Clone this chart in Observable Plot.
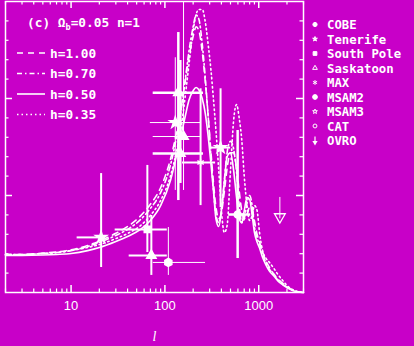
<!DOCTYPE html>
<html><head><meta charset="utf-8">
<script src="https://cdn.jsdelivr.net/npm/d3@7"></script>
<script src="https://cdn.jsdelivr.net/npm/@observablehq/plot@0.6"></script>
<style>
html,body{margin:0;padding:0;background:#c800c8;}
#chart{width:414px;height:346px;overflow:hidden;}
</style></head><body><div id="chart"></div>
<script>
// multipole grid
const ells = [2,3,5,7,10,15,20,30,40,55,70,90,115,135,150,165,180,200,215,230,250,270,290,310,330,350,375,400,430,460,500,540,580,620,660,700,750,800,850,900,960,1020,1100,1200,1300,1450,1600,1800,2000,2300,2600,3000];
// model curves (Omega_b = 0.05, n = 1)
const h100 = [19.6,19.6,20.3,20.9,22,24.2,26.5,30.5,34,39.5,45.5,54,69,84,96,109,121,132,137,135,124,108,90,72,56,44,38,41,52,64,72,72,64,52,42,38,40,44,43,37,30,26,21,16,13,9.5,7,4.8,3,1.3,0.4,0];
const h070 = [19.6,19.6,20.1,20.6,21.6,23.7,25.8,29.4,32.5,37.6,43.3,51.5,66,82,95,110,124,137,143,141,128,110,90,70,52,40,36,42,58,72,78,74,62,45,36,38,46,50,45,34,28,25,20,15,12,9,6.5,4.5,2.8,1.2,0.4,0];
const h050 = [19.1,19.1,19.3,19.6,20.1,21.6,23.2,26.3,28.9,32.5,37.1,44.8,58,72,82,91,99,104,105.7,104.5,100,92,80,66,52,38,34,42,57,70,72,63,49,38,36,42,49,48,40,31,26,23,18,14,11,8.5,6,4,2.5,1,0.3,0];
const h035 = [19.6,19.6,20.1,20.6,21.6,23.2,24.7,27.8,30.4,34.5,39.7,47.4,60.3,74.2,86.1,101.5,117,135,143.3,145.9,145.9,139.2,127.3,114.4,99,83.5,62.9,42.3,30.9,34.5,62.9,88.7,96.9,89.7,78.4,60.3,44.8,37.1,39.7,44.8,42.3,30.9,21.6,17.5,15.5,12.4,9.3,6.2,3.6,1.5,0.5,0];
const modelLabels = ["h=1.00","h=0.70","h=0.50","h=0.35"];
const modelDash = ["6,5","5,3,1.5,3","none","1.5,3"];

// measurements
const ptExp  = ["Tenerife","South Pole","Saskatoon","MSAM2","Saskatoon","MSAM3","Saskatoon","Saskatoon","MAX","MSAM3","CAT"];
const ptL    = [20.9,65,71.7,108.8,139,129,146,158,240,392,596];
const ptLlo  = [11.6,29.5,41.6,75.1,75,70,75,75,154,307,478];
const ptLhi  = [23.1,106,106,271,258,240,258,240,347,502,821];
const ptV    = [28.4,32.5,19.1,15.5,103,87.6,71.6,80.4,67,74.7,40.2];
const ptVlo  = [12.9,20.6,8.8,8.8,47.4,52.6,56.2,52.6,44.8,43.8,17.5];
const ptVhi  = [61.3,65.5,39.7,33.5,134,121,119.6,150,105,105,83.5];
const ptThick= [2,2,2,1,2.5,1,2.5,1,2,2,2.5];
const ovroL = 1680, ovroTop = 49, ovroTip = 36;

const legendExps = ["COBE","Tenerife","South Pole","Saskatoon","MAX","MSAM2","MSAM3","CAT","OVRO"];
const xMajor = [10,100,1000];
const xMinor = [2,3,4,5,6,7,8,9,20,30,40,50,60,70,80,90,200,300,400,500,600,700,800,900,2000,3000];
const yMajor = [50,100];
const yMinor = [10,20,30,40,60,70,80,90,110,120,130,140];

const symOf = {"COBE":"circle","Tenerife":"star","South Pole":"square","Saskatoon":"triangle","MAX":"asterisk","MSAM2":"hexagon","MSAM3":"star","CAT":"circle","OVRO":"triangle"};

const models = [];
[h100,h070,h050,h035].forEach((arr,i)=>arr.forEach((v,j)=>models.push({model:modelLabels[i], l:ells[j], v})));
const pts = ptL.map((l,i)=>({exp:ptExp[i], l, llo:ptLlo[i], lhi:ptLhi[i], v:ptV[i], vlo:ptVlo[i], vhi:ptVhi[i], w:ptThick[i]}));

const W = "white";
const fMinX = Math.pow(10, 3.5/93.5), fMajX = Math.pow(10, 7/93.5);
const marks = [
  Plot.frame({stroke:W, strokeWidth:1.5}),
  Plot.ruleX(xMinor, {x:d=>d, y1:0, y2:1.8, stroke:W, strokeWidth:1.2}),
  Plot.ruleX(xMajor, {x:d=>d, y1:0, y2:3.6, stroke:W, strokeWidth:1.5}),
  Plot.ruleX(xMinor, {x:d=>d, y1:150, y2:148.2, stroke:W, strokeWidth:1.2}),
  Plot.ruleX(xMajor, {x:d=>d, y1:150, y2:146.4, stroke:W, strokeWidth:1.5}),
  Plot.ruleY(yMinor, {y:d=>d, x1:2, x2:2*fMinX, stroke:W, strokeWidth:1.2}),
  Plot.ruleY(yMajor, {y:d=>d, x1:2, x2:2*fMajX, stroke:W, strokeWidth:1.5}),
  Plot.ruleY(yMinor, {y:d=>d, x1:3000, x2:3000/fMinX, stroke:W, strokeWidth:1.2}),
  Plot.ruleY(yMajor, {y:d=>d, x1:3000, x2:3000/fMajX, stroke:W, strokeWidth:1.5}),
  Plot.axisX({ticks:xMajor, tickSize:0, tickPadding:8, tickFormat:d=>String(d), fontSize:13, fill:W, fontFamily:"Liberation Sans"}),
  Plot.text(["l"], {frameAnchor:"bottom", dy:48, fill:W, fontSize:14, fontStyle:"italic", fontFamily:"Liberation Serif"})
];
modelLabels.forEach((m,i)=>{
  marks.push(Plot.line(models.filter(d=>d.model===m), {x:"l", y:"v", stroke:W, strokeWidth:1.6, strokeDasharray:modelDash[i], curve:"monotone-x"}));
});
[1,2,2.5].forEach(w=>{
  const s = pts.filter(d=>d.w===w);
  marks.push(Plot.ruleX(s, {x:"l", y1:"vlo", y2:"vhi", stroke:W, strokeWidth:w}));
  marks.push(Plot.ruleY(s, {y:"v", x1:"llo", x2:"lhi", stroke:W, strokeWidth:w}));
});
Object.entries(symOf).forEach(([e,s])=>{
  const sub = pts.filter(d=>d.exp===e);
  if (sub.length) marks.push(Plot.dot(sub, {x:"l", y:"v", symbol:s, r:3.5, fill:W, stroke:W}));
});
marks.push(Plot.ruleX([ovroL], {x:d=>d, y1:ovroTop, y2:ovroTip+2, stroke:W, strokeWidth:1}));
marks.push(Plot.dot([ovroL], {x:d=>d, y:ovroTip+3, symbol:"triangle", rotate:180, r:4, stroke:W, strokeWidth:1.3, fill:"none"}));

const chart = Plot.plot({
  width:414, height:346,
  marginLeft:5, marginRight:111, marginTop:1, marginBottom:54,
  style:{background:"#c800c8", color:W, overflow:"visible"},
  x:{type:"log", domain:[2,3000], axis:null},
  y:{domain:[0,150], axis:null},
  marks
});
document.getElementById("chart").appendChild(chart);

// legends
const svg = d3.select(chart);
const font = "DejaVu Sans Mono";
const g1 = svg.append("g").attr("fill",W).attr("font-family",font).attr("font-weight","bold").attr("font-size",12.8).attr("text-anchor","start");
const t0 = g1.append("text").attr("x",27).attr("y",27);
t0.append("tspan").text("(c) Ω");
t0.append("tspan").attr("font-size",8.5).attr("dy",3).text("b");
t0.append("tspan").attr("dy",-3).text("=0.05 n=1");
modelLabels.forEach((m,i)=>{
  const y = 53 + i*20.5;
  svg.append("line").attr("x1",17).attr("x2",45).attr("y1",y).attr("y2",y)
    .attr("stroke",W).attr("stroke-width",1.6).attr("stroke-dasharray",modelDash[i]==="none"?null:modelDash[i]);
  g1.append("text").attr("x",50).attr("y",y+4.8).text(m);
});
const g2 = svg.append("g").attr("fill",W).attr("font-family",font).attr("font-weight","bold").attr("font-size",12.3).attr("text-anchor","start");
legendExps.forEach((e,i)=>{
  const y = 24.5 + i*14.5;
  g2.append("text").attr("x",327).attr("y",y+4.6).text(e);
  if (e==="OVRO") {
    svg.append("line").attr("x1",315).attr("x2",315).attr("y1",y-4).attr("y2",y+3).attr("stroke",W).attr("stroke-width",1.2);
    svg.append("path").attr("d",d3.symbol(d3.symbolTriangle,12)()).attr("transform",`translate(315,${y+2}) rotate(180)`).attr("fill",W);
    return;
  }
  const map = {"circle":d3.symbolCircle,"star":d3.symbolStar,"square":d3.symbolSquare,"triangle":d3.symbolTriangle2,"asterisk":d3.symbolAsterisk,"hexagon":d3.symbolCircle};
  const filled = !(e==="Saskatoon"||e==="MAX"||e==="CAT"||e==="MSAM3");
  const s = map[symOf[e]];
  const size = {"COBE":14,"Tenerife":7,"South Pole":14,"Saskatoon":16,"MAX":16,"MSAM2":18,"MSAM3":7,"CAT":12}[e];
  svg.append("path").attr("d",d3.symbol(s, size)())
    .attr("transform",`translate(315,${y})`)
    .attr("fill",filled?W:"none").attr("stroke",W).attr("stroke-width",1);
});
</script></body></html>
